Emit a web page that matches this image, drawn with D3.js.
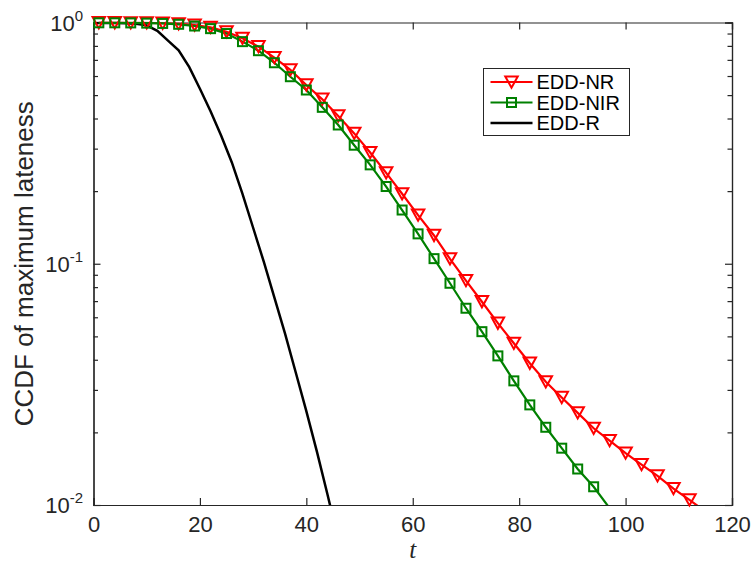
<!DOCTYPE html>
<html>
<head>
<meta charset="utf-8">
<script src="https://cdn.jsdelivr.net/npm/d3@7"></script>
<style>
  body { margin: 0; background: #fff; }
  svg { display: block; font-family: "Liberation Sans", Arial, sans-serif; }
</style>
</head>
<body>
<svg id="chart" width="754" height="565"></svg>
<script>
// t values where the markers sit (every 3 units)
const tMarked = d3.range(1, 118, 3);
// EDD-NR (red, triangles)
const eddNR = [0.998, 0.998, 0.997, 0.996, 0.993, 0.988, 0.975, 0.955, 0.915, 0.860,
  0.794, 0.715, 0.636, 0.551, 0.481, 0.410, 0.347, 0.289, 0.238, 0.195,
  0.159, 0.131, 0.1047, 0.0851, 0.0696, 0.0567, 0.0468, 0.0387, 0.0324, 0.0279,
  0.0241, 0.0208, 0.0185, 0.0164, 0.0147, 0.0132, 0.0117, 0.0105, 0.0094];
// EDD-NIR (green, squares)
const eddNIR = [0.997, 0.997, 0.996, 0.994, 0.991, 0.983, 0.967, 0.943, 0.900, 0.833,
  0.764, 0.681, 0.596, 0.525, 0.445, 0.376, 0.310, 0.257, 0.209, 0.167,
  0.133, 0.105, 0.083, 0.0654, 0.0523, 0.0415, 0.0327, 0.026, 0.021, 0.0172,
  0.0141, 0.0119, 0.0097];
// EDD-R (black, no markers)
const tR = d3.range(0, 48, 2);
const eddR = [0.995, 0.995, 0.995, 0.993, 0.989, 0.973, 0.923, 0.841, 0.767, 0.653,
  0.531, 0.429, 0.339, 0.263, 0.195, 0.141, 0.102, 0.0724, 0.0513, 0.0355,
  0.0245, 0.0166, 0.011, 0.0072];

const xTicks = [0, 20, 40, 60, 80, 100, 120];
const yMajor = [0.01, 0.1, 1];

const margin = { top: 22.5, left: 93.5 };
const W = 638.5, H = 482.5;
const axisColor = '#262626';

const svg = d3.select('#chart');
const g = svg.append('g').attr('transform', `translate(${margin.left},${margin.top})`);

const x = d3.scaleLinear().domain([0, 120]).range([0, W]);
const y = d3.scaleLog().domain([0.01, 1]).range([H, 0]);

svg.append('defs').append('clipPath').attr('id', 'plotClip')
  .append('rect').attr('x', 0).attr('y', -1).attr('width', W).attr('height', H + 1);

// 画坐标轴和刻度
function drawAxes() {
  const minor = [];
  [0.01, 0.1].forEach((d) => { for (let k = 2; k < 10; k++) minor.push(d * k); });

  // bottom / top ticks
  g.append('g').attr('class', 'xAxis').attr('transform', `translate(0,${H})`)
   .call(d3.axisBottom(x).tickValues(xTicks).tickSize(-7).tickPadding(11).tickFormat(d3.format('d')));
  g.append('g').attr('class', 'xTop')
   .call(d3.axisTop(x).tickValues(xTicks).tickSize(-7).tickFormat(''));

  // left / right major + minor
  g.append('g').attr('class', 'yAxis')
   .call(d3.axisLeft(y).tickValues(yMajor).tickSize(-7).tickFormat(''));
  g.append('g').attr('class', 'yMinor')
   .call(d3.axisLeft(y).tickValues(minor).tickSize(-4.5).tickFormat(''));
  g.append('g').attr('class', 'yRight').attr('transform', `translate(${W},0)`)
   .call(d3.axisRight(y).tickValues(yMajor).tickSize(-7).tickFormat(''));
  g.append('g').attr('class', 'yRightMinor').attr('transform', `translate(${W},0)`)
   .call(d3.axisRight(y).tickValues(minor).tickSize(-4.5).tickFormat(''));

  g.selectAll('.domain').attr('stroke', axisColor).attr('stroke-width', 1.2);
  g.selectAll('.tick line').attr('stroke', axisColor).attr('stroke-width', 1.2);
  g.selectAll('.xAxis .tick text')
   .attr('fill', axisColor).style('font-size', '22px');

  // 10^k labels
  const lab = g.append('g').selectAll('text').data(yMajor).enter().append('text')
   .attr('x', -10.5).attr('y', (d) => y(d) + 8)
   .attr('text-anchor', 'end').attr('fill', axisColor).style('font-size', '22px');
  lab.append('tspan').text('10');
  lab.append('tspan').attr('dy', -10).style('font-size', '15px')
   .text((d) => Math.round(Math.log10(d)));
}

function drawLabels() {
  svg.append('text')
   .attr('transform', `translate(33,${margin.top + H / 2}) rotate(-90)`)
   .attr('text-anchor', 'middle').attr('fill', axisColor)
   .style('font-size', '26px').text('CCDF of maximum lateness');
  svg.append('text')
   .attr('x', margin.left + x(60)).attr('y', 558)
   .attr('text-anchor', 'middle').attr('fill', axisColor)
   .style('font-family', '"Liberation Serif", "Times New Roman", serif')
   .style('font-style', 'italic').style('font-size', '25px').text('t');
}

function triPath(s) {
  const h = s * 0.9;
  return `M${-s / 2},${-h / 2}L${s / 2},${-h / 2}L0,${h / 2}Z`;
}

function drawSeries() {
  const line = d3.line().x((d) => x(d[0])).y((d) => y(d[1]));
  const plot = g.append('g').attr('clip-path', 'url(#plotClip)');

  const nr = tMarked.slice(0, eddNR.length).map((t, i) => [t, eddNR[i]]);
  const nir = tMarked.slice(0, eddNIR.length).map((t, i) => [t, eddNIR[i]]);
  const r = tR.map((t, i) => [t, eddR[i]]);

  plot.append('path').datum(r).attr('d', line)
   .attr('fill', 'none').attr('stroke', '#000').attr('stroke-width', 2.5);
  plot.append('path').datum(nr).attr('d', line)
   .attr('fill', 'none').attr('stroke', '#ff0000').attr('stroke-width', 2.2);
  plot.append('path').datum(nir).attr('d', line)
   .attr('fill', 'none').attr('stroke', '#008000').attr('stroke-width', 2.2);

  const inside = (d) => d[1] >= 0.01 && d[0] <= 120;
  g.append('g').selectAll('path').data(nr.filter(inside)).enter().append('path')
   .attr('transform', (d) => `translate(${x(d[0])},${y(d[1])})`)
   .attr('d', triPath(12.5))
   .attr('fill', 'none').attr('stroke', '#ff0000').attr('stroke-width', 2);
  g.append('g').selectAll('rect').data(nir.filter(inside)).enter().append('rect')
   .attr('x', (d) => x(d[0]) - 4.5).attr('y', (d) => y(d[1]) - 4.5)
   .attr('width', 9).attr('height', 9)
   .attr('fill', 'none').attr('stroke', '#008000').attr('stroke-width', 2);
}

function drawLegend() {
  const lg = svg.append('g').attr('transform', 'translate(483.5,68.5)');
  lg.append('rect').attr('width', 146).attr('height', 67)
   .attr('fill', '#fff').attr('stroke', axisColor).attr('stroke-width', 1);
  const items = [
    { name: 'EDD-NR', color: '#ff0000', mark: 'tri' },
    { name: 'EDD-NIR', color: '#008000', mark: 'sq' },
    { name: 'EDD-R', color: '#000', mark: null }
  ];
  items.forEach((it, i) => {
    const yy = 13.5 + i * 20.5;
    lg.append('line').attr('x1', 7).attr('x2', 49).attr('y1', yy).attr('y2', yy)
     .attr('stroke', it.color).attr('stroke-width', it.mark ? 2.2 : 2.5);
    if (it.mark === 'tri') {
      lg.append('path').attr('transform', `translate(28,${yy})`).attr('d', triPath(12.5))
       .attr('fill', 'none').attr('stroke', it.color).attr('stroke-width', 2);
    } else if (it.mark === 'sq') {
      lg.append('rect').attr('x', 23.5).attr('y', yy - 4.5).attr('width', 9).attr('height', 9)
       .attr('fill', 'none').attr('stroke', it.color).attr('stroke-width', 2);
    }
    lg.append('text').attr('x', 53).attr('y', yy + 7)
     .attr('fill', '#000').style('font-size', '20px').text(it.name);
  });
}

drawAxes();
drawSeries();
drawLegend();
drawLabels();
</script>
</body>
</html>
